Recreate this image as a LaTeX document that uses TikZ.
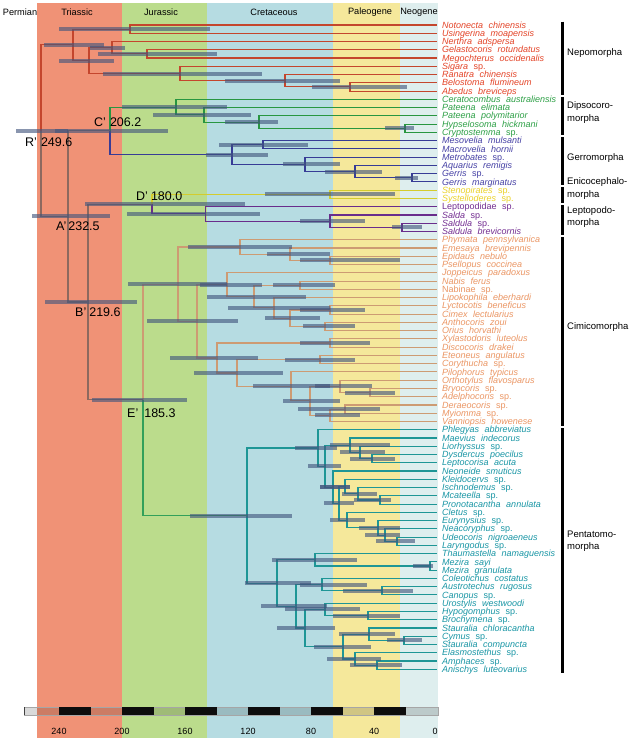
\documentclass[tikz,border=0pt]{standalone}
\usepackage{fontspec}
\setmainfont{Liberation Sans}[WordSpace=2.2]
\usetikzlibrary{calc}
\definecolor{bTri}{RGB}{240,146,118}
\definecolor{bJur}{RGB}{187,220,140}
\definecolor{bCre}{RGB}{182,220,226}
\definecolor{bPal}{RGB}{245,232,155}
\definecolor{bNeo}{RGB}{222,238,238}
\definecolor{lNep}{RGB}{196,70,45}
\definecolor{tNep}{RGB}{228,68,40}
\definecolor{lDip}{RGB}{40,150,65}
\definecolor{tDip}{RGB}{45,160,70}
\definecolor{lGer}{RGB}{55,60,150}
\definecolor{tGer}{RGB}{70,65,165}
\definecolor{lEni}{RGB}{212,204,45}
\definecolor{tEni}{RGB}{235,210,40}
\definecolor{lLep}{RGB}{105,45,140}
\definecolor{tLep}{RGB}{115,45,145}
\definecolor{lCim}{RGB}{205,155,115}
\definecolor{tCim}{RGB}{235,150,100}
\definecolor{lPen}{RGB}{30,150,150}
\definecolor{tPen}{RGB}{25,150,165}
\definecolor{lStem}{RGB}{50,160,90}
\definecolor{lBack}{RGB}{140,105,95}
\definecolor{hpdc}{RGB}{65,85,125}
% internal node: colour1, colour2, name, x, child1, child2
\newcommand\cl[6]{%
  \path let \p1=($(#5)!0.5!(#6)$) in (#4pt,\y1) coordinate (#3);
  \draw[br,#1] (#3) |- (#5);
  \draw[br,#2] (#3) |- (#6);}
\newcommand\hb[3]{\fill[hpd] let \p1=(#1) in ({#2pt},{\y1+2pt}) rectangle ({#3pt},{\y1-2pt});}
\newcommand\tx[3]{\node[taxon,text=#2] (n#1) at ($(t#1)+(5,3.1)$) {#3};}
\newcommand\up[1]{\textup{#1}}
\begin{document}
\begin{tikzpicture}[x=1pt,y=-1pt,
  br/.style={line width=1.1pt},
  hpd/.style={fill=hpdc,fill opacity=0.62},
  taxon/.style={anchor=base west,inner sep=0pt,font=\fontsize{9}{10}\selectfont\itshape},
  clab/.style={anchor=west,inner sep=0pt,font=\fontsize{9.5}{12.5}\selectfont,align=left},
  nlab/.style={anchor=west,inner sep=0pt,font=\fontsize{12.5}{14}\selectfont},
  hdr/.style={inner sep=0pt,font=\fontsize{9.2}{10}\selectfont},
  ticklab/.style={inner sep=0pt,font=\fontsize{9}{10}\selectfont}]
\useasboundingbox (0,0) rectangle (635,741);
\fill[white] (0,0) rectangle (635,741);
% period bands
\fill[bTri] (37,3) rectangle (122,738);
\fill[bJur] (122,3) rectangle (206.5,738);
\fill[bCre] (206.5,3) rectangle (333,738);
\fill[bPal] (333,3) rectangle (400,738);
\fill[bNeo] (400,3) rectangle (438,738);
\node[hdr] (hP) at (20,12) {Permian};
\node[hdr] (hT) at (77,12) {Triassic};
\node[hdr] (hJ) at (161,12) {Jurassic};
\node[hdr] (hK) at (274,12) {Cretaceous};
\node[hdr] (hPg) at (370,12) {Paleogene};
\node[hdr] (hN) at (419,12) {Neogene};
% tips
\foreach \i in {0,...,78}{\coordinate (t\i) at (437,{25+8.26*\i});}
% Nepomorpha
\cl{lNep}{lNep}{N1}{130}{t0}{t1}
\cl{lNep}{lNep}{N4}{147}{t3}{t4}
\cl{lNep}{lNep}{N3}{112}{t2}{N4}
\cl{lNep}{lNep}{N7}{350}{t7}{t8}
\cl{lNep}{lNep}{N6}{285}{t6}{N7}
\cl{lNep}{lNep}{N5}{180}{t5}{N6}
\cl{lNep}{lNep}{N2}{89}{N3}{N5}
\cl{lNep}{lNep}{NC}{73}{N1}{N2}
% Dipsocoromorpha
\cl{lDip}{lDip}{D3}{405}{t12}{t13}
\cl{lDip}{lDip}{D2}{259}{t11}{D3}
\cl{lDip}{lDip}{D1}{204}{t10}{D2}
\cl{lDip}{lDip}{D0}{176}{t9}{D1}
% Gerromorpha
\cl{lGer}{lGer}{G4}{412}{t18}{t19}
\cl{lGer}{lGer}{G3}{355}{t17}{G4}
\cl{lGer}{lGer}{G2}{305}{t16}{G3}
\cl{lGer}{lGer}{G1}{263}{t14}{t15}
\cl{lGer}{lGer}{G0}{232}{G1}{G2}
\cl{lDip}{lGer}{Cp}{110}{D0}{G0}
% Enicocephalomorpha, Leptopodomorpha
\cl{lEni}{lEni}{EN}{330}{t20}{t21}
\cl{lLep}{lLep}{S1}{402}{t24}{t25}
\cl{lLep}{lLep}{S0}{330}{t23}{S1}
\cl{lLep}{lLep}{L0}{205.5}{t22}{S0}
\cl{lEni}{lLep}{Dp}{152}{EN}{L0}
% Cimicomorpha
\cl{lCim}{lCim}{U3}{330}{t28}{t29}
\cl{lCim}{lCim}{U2}{290}{t27}{U3}
\cl{lCim}{lCim}{U1}{240}{t26}{U2}
\cl{lCim}{lCim}{NB}{300}{t31}{t32}
\cl{lCim}{lCim}{W1}{330}{t34}{t35}
\cl{lCim}{lCim}{W2}{325}{t36}{t37}
\cl{lCim}{lCim}{W}{290}{W1}{W2}
\cl{lCim}{lCim}{Z}{274}{t33}{W}
\cl{lCim}{lCim}{Y}{254}{NB}{Z}
\cl{lCim}{lCim}{X}{227}{t30}{Y}
\cl{lCim}{lCim}{TH}{330}{t38}{t39}
\cl{lCim}{lCim}{TI}{320}{t40}{t41}
\cl{lCim}{lCim}{MB}{370}{t44}{t45}
\cl{lCim}{lCim}{M1}{340}{t43}{MB}
\cl{lCim}{lCim}{MD}{345}{t46}{t47}
\cl{lCim}{lCim}{M2}{330}{MD}{t48}
\cl{lCim}{lCim}{MR}{310}{M1}{M2}
\cl{lCim}{lCim}{M0}{291}{t42}{MR}
\cl{lCim}{lCim}{L3}{237}{TI}{M0}
\cl{lCim}{lCim}{L2}{217}{TH}{L3}
\cl{lCim}{lCim}{L1}{197}{X}{L2}
\cl{lCim}{lCim}{CC}{178}{U1}{L1}
% Pentatomomorpha
\cl{lPen}{lPen}{B1b}{372}{t52}{t53}
\cl{lPen}{lPen}{B1a}{360}{t51}{B1b}
\cl{lPen}{lPen}{B1}{350}{t50}{B1a}
\cl{lPen}{lPen}{C1b}{380}{t57}{t58}
\cl{lPen}{lPen}{C1a}{358}{t56}{C1b}
\cl{lPen}{lPen}{C1}{345}{t55}{C1a}
\cl{lPen}{lPen}{C2c}{397}{t62}{t63}
\cl{lPen}{lPen}{C2b}{385}{t61}{C2c}
\cl{lPen}{lPen}{C2a}{378}{t60}{C2b}
\cl{lPen}{lPen}{C2}{347}{t59}{C2a}
\cl{lPen}{lPen}{CX}{339}{C1}{C2}
\cl{lPen}{lPen}{B2}{333}{t54}{CX}
\cl{lPen}{lPen}{P1b}{325}{B1}{B2}
\cl{lPen}{lPen}{P1}{318}{t49}{P1b}
\cl{lPen}{lPen}{MZ}{430}{t65}{t66}
\cl{lPen}{lPen}{TM}{315}{t64}{MZ}
\cl{lPen}{lPen}{AC}{382}{t68}{t69}
\cl{lPen}{lPen}{CO}{322}{t67}{AC}
\cl{lPen}{lPen}{HB}{368}{t71}{t72}
\cl{lPen}{lPen}{UR}{325}{t70}{HB}
\cl{lPen}{lPen}{CS}{404}{t74}{t75}
\cl{lPen}{lPen}{ST}{369}{t73}{CS}
\cl{lPen}{lPen}{AA}{377}{t77}{t78}
\cl{lPen}{lPen}{EL}{355}{t76}{AA}
\cl{lPen}{lPen}{SE}{343}{ST}{EL}
\cl{lPen}{lPen}{RR}{305}{UR}{SE}
\cl{lPen}{lPen}{Q0}{296}{CO}{RR}
\cl{lPen}{lPen}{P2}{277}{TM}{Q0}
\cl{lPen}{lPen}{PC}{247}{P1}{P2}
% backbone
\cl{lCim}{lStem}{Ep}{143}{CC}{PC}
\cl{lBack}{lBack}{Bp}{88}{Dp}{Ep}
\cl{lBack}{lBack}{Ap}{68}{Cp}{Bp}
\cl{lNep}{lBack}{Rp}{41}{NC}{Ap}
% HPD bars
\hb{N1}{59}{210} \hb{N4}{98}{217} \hb{N3}{90}{125} \hb{N7}{312}{407}
\hb{N6}{225}{340} \hb{N5}{103}{262} \hb{N2}{59}{114} \hb{NC}{44}{104}
\hb{D3}{385}{414} \hb{D2}{225}{278} \hb{D1}{153}{251} \hb{D0}{122}{227}
\hb{G4}{395}{418} \hb{G3}{325}{382} \hb{G2}{283}{340} \hb{G1}{219}{308} \hb{G0}{206}{268}
\hb{Cp}{55}{168}
\hb{EN}{265}{395} \hb{S1}{392}{422} \hb{S0}{300}{365} \hb{L0}{127}{260} \hb{Dp}{85}{245}
\hb{U3}{300}{400} \hb{U2}{267}{330} \hb{U1}{188}{292} \hb{NB}{273}{335}
\hb{W1}{300}{365} \hb{W2}{303}{355} \hb{W}{265}{320} \hb{Z}{228}{330}
\hb{Y}{207}{306} \hb{X}{200}{262} \hb{TH}{300}{370} \hb{TI}{285}{355}
\hb{MB}{345}{395} \hb{M1}{315}{372} \hb{MD}{298}{380} \hb{M2}{315}{360}
\hb{MR}{283}{340} \hb{M0}{253}{330} \hb{L3}{194}{283} \hb{L2}{170}{258}
\hb{L1}{147}{238} \hb{CC}{128}{227}
\hb{B1b}{350}{395} \hb{B1a}{340}{385} \hb{B1}{330}{390} \hb{C1b}{354}{391}
\hb{C1a}{342}{377} \hb{C1}{320}{350} \hb{C2c}{376}{415} \hb{C2b}{365}{400}
\hb{C2a}{359}{400} \hb{C2}{330}{365} \hb{CX}{324}{354} \hb{B2}{320}{350}
\hb{P1b}{308}{341} \hb{P1}{295}{337} \hb{MZ}{413}{433} \hb{TM}{272}{357}
\hb{AC}{343}{413} \hb{CO}{300}{367} \hb{HB}{333}{400} \hb{UR}{285}{360}
\hb{CS}{387}{422} \hb{ST}{339}{395} \hb{AA}{350}{402} \hb{EL}{327}{381}
\hb{SE}{314}{371} \hb{RR}{277}{335} \hb{Q0}{261}{327} \hb{P2}{245}{311}
\hb{PC}{190}{292} \hb{Ep}{92}{187} \hb{Bp}{45}{137} \hb{Ap}{32}{110} \hb{Rp}{16}{68}
% node labels
\node[nlab] (lR) at (25,141.7) {R'\hspace{4pt}249.6};
\node[nlab] (lC) at (94,122.3) {C'\hspace{4pt}206.2};
\node[nlab] (lA) at (56,225.7) {A'\hspace{2pt}232.5};
\node[nlab] (lD) at (136,196) {D'\hspace{3pt}180.0};
\node[nlab] (lB) at (75,311.7) {B'\hspace{3pt}219.6};
\node[nlab] (lE) at (127,413.3) {E'\hspace{6pt}185.3};
% taxa
\tx{0}{tNep}{Notonecta chinensis}
\tx{1}{tNep}{Usingerina moapensis}
\tx{2}{tNep}{Nerthra adspersa}
\tx{3}{tNep}{Gelastocoris rotundatus}
\tx{4}{tNep}{Megochterus occidenalis}
\tx{5}{tNep}{Sigara \up{sp.}}
\tx{6}{tNep}{Ranatra chinensis}
\tx{7}{tNep}{Belostoma flumineum}
\tx{8}{tNep}{Abedus breviceps}
\tx{9}{tDip}{Ceratocombus australiensis}
\tx{10}{tDip}{Pateena elimata}
\tx{11}{tDip}{Pateena polymitarior}
\tx{12}{tDip}{Hypselosoma hickmani}
\tx{13}{tDip}{Cryptostemma \up{sp.}}
\tx{14}{tGer}{Mesovelia mulsanti}
\tx{15}{tGer}{Macrovelia hornii}
\tx{16}{tGer}{Metrobates \up{sp.}}
\tx{17}{tGer}{Aquarius remigis}
\tx{18}{tGer}{Gerris \up{sp.}}
\tx{19}{tGer}{Gerris marginatus}
\tx{20}{tEni}{Stenopirates \up{sp.}}
\tx{21}{tEni}{Systelloderes \up{sp.}}
\tx{22}{tLep}{\up{Leptopodidae sp.}}
\tx{23}{tLep}{Salda \up{sp.}}
\tx{24}{tLep}{Saldula \up{sp.}}
\tx{25}{tLep}{Saldula brevicornis}
\tx{26}{tCim}{Phymata pennsylvanica}
\tx{27}{tCim}{Emesaya brevipennis}
\tx{28}{tCim}{Epidaus nebulo}
\tx{29}{tCim}{Psellopus coccinea}
\tx{30}{tCim}{Joppeicus paradoxus}
\tx{31}{tCim}{Nabis ferus}
\tx{32}{tCim}{\up{Nabinae sp.}}
\tx{33}{tCim}{Lipokophila eberhardi}
\tx{34}{tCim}{Lyctocotis beneficus}
\tx{35}{tCim}{Cimex lectularius}
\tx{36}{tCim}{Anthocoris zoui}
\tx{37}{tCim}{Orius horvathi}
\tx{38}{tCim}{Xylastodoris luteolus}
\tx{39}{tCim}{Discocoris drakei}
\tx{40}{tCim}{Eteoneus angulatus}
\tx{41}{tCim}{Corythucha \up{sp.}}
\tx{42}{tCim}{Pilophorus typicus}
\tx{43}{tCim}{Orthotylus flavosparus}
\tx{44}{tCim}{Bryocoris \up{sp.}}
\tx{45}{tCim}{Adelphocoris \up{sp.}}
\tx{46}{tCim}{Deraeocoris \up{sp.}}
\tx{47}{tCim}{Myiomma \up{sp.}}
\tx{48}{tCim}{Vanniopsis howenese}
\tx{49}{tPen}{Phlegyas abbreviatus}
\tx{50}{tPen}{Maevius indecorus}
\tx{51}{tPen}{Liorhyssus \up{sp.}}
\tx{52}{tPen}{Dysdercus poecilus}
\tx{53}{tPen}{Leptocorisa acuta}
\tx{54}{tPen}{Neoneide smuticus}
\tx{55}{tPen}{Kleidocervs \up{sp.}}
\tx{56}{tPen}{Ischnodemus \up{sp.}}
\tx{57}{tPen}{Mcateella \up{sp.}}
\tx{58}{tPen}{Pronotacantha annulata}
\tx{59}{tPen}{Cletus \up{sp.}}
\tx{60}{tPen}{Eurynysius \up{sp.}}
\tx{61}{tPen}{Neacoryphus \up{sp.}}
\tx{62}{tPen}{Udeocoris nigroaeneus}
\tx{63}{tPen}{Laryngodus \up{sp.}}
\tx{64}{tPen}{Thaumastella namaguensis}
\tx{65}{tPen}{Mezira sayi}
\tx{66}{tPen}{Mezira granulata}
\tx{67}{tPen}{Coleotichus costatus}
\tx{68}{tPen}{Austrotechus rugosus}
\tx{69}{tPen}{Canopus \up{sp.}}
\tx{70}{tPen}{Urostylis westwoodi}
\tx{71}{tPen}{Hypogomphus \up{sp.}}
\tx{72}{tPen}{Brochymena \up{sp.}}
\tx{73}{tPen}{Stauralia chloracantha}
\tx{74}{tPen}{Cymus \up{sp.}}
\tx{75}{tPen}{Stauralia compuncta}
\tx{76}{tPen}{Elasmostethus \up{sp.}}
\tx{77}{tPen}{Amphaces \up{sp.}}
\tx{78}{tPen}{Anischys luteovarius}
% clade bars and labels
\foreach \a/\b in {21.7/95,97/134.5,137/185,187/203,205/234.5,237/426,428/673}
  {\draw[line width=3pt] (562.5,\a) -- (562.5,\b);}
\node[clab] (cNep) at (567,53) {Nepomorpha};
\node[clab] (cDip) at (567,112.4) {Dipsocoro-\\morpha};
\node[clab] (cGer) at (567,158) {Gerromorpha};
\node[clab] (cEni) at (567,188.5) {Enicocephalo-\\morpha};
\node[clab] (cLep) at (567,217) {Leptopodo-\\morpha};
\node[clab] (cCim) at (567,327) {Cimicomorpha};
\node[clab] (cPen) at (567,541) {Pentatomo-\\morpha};
% time scale
\fill[black,opacity=0.15] (24,707) rectangle (438,715);
\draw[black!35,line width=0.6pt] (24,707) rectangle (438,715);
\foreach \a in {20,60,100,140,180,220}
  {\fill[black!95] ({437-1.575*(\a+20)},707) rectangle ({437-1.575*\a},715);}
\draw[black!75,line width=1.2pt] (24.6,707) -- (24.6,715);
\foreach \v/\p in {240/59,200/122,160/185,120/248,80/311,40/374,0/435}
  {\node[ticklab] at (\p,731) {\v};}
\end{tikzpicture}
\end{document}
